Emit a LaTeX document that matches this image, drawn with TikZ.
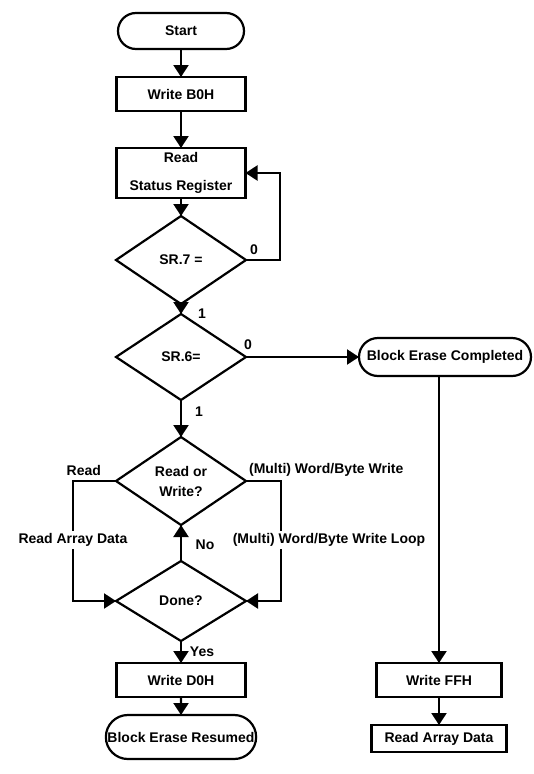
\documentclass[tikz,border=0pt]{standalone}
\usepackage{fontspec}
\setmainfont{Liberation Sans}
\usetikzlibrary{arrows.meta,positioning,shapes.geometric,shapes.misc}

\begin{document}
\begin{tikzpicture}[
  x=1pt, y=-1pt, font=\fontsize{14}{16}\selectfont\bfseries, line width=2.2pt,
  procbox/.style={draw, minimum width=129pt, minimum height=34pt, inner sep=2pt,
               outer sep=0pt, align=center},
  termbox/.style={draw, rounded rectangle, minimum height=38pt, inner sep=1pt, outer sep=0pt},
  decision/.style={draw, diamond, aspect=1.5, minimum width=130pt, minimum height=88pt,
               inner sep=0pt, outer sep=0pt, align=center},
  arr/.style={-{Triangle[length=12pt,width=15pt]}},
  lbl/.style={inner sep=1pt},
  onlinelbl/.style={fill=white, inner sep=2pt}
]
\useasboundingbox (0,0) rectangle (534,774);
% main column
\node[termbox, minimum width=128pt, minimum height=36pt] (start) at (181,31) {Start};
\node[procbox, below=28pt of start] (wb0) {Write B0H};
\node[procbox, below=37pt of wb0, minimum height=50pt] (rsr) {Read\\[12pt]Status Register};
\node[decision, below=18pt of rsr] (sr7) {SR.7 =};
\node[decision, below=10pt of sr7, minimum height=86pt] (sr6) {SR.6=};
\node[decision, below=37pt of sr6] (rw) {Read or\\[4pt]Write?};
\node[decision, below=36pt of rw, minimum height=80pt] (done) {Done?};
\node[procbox, below=22pt of done] (wd0) {Write D0H};
\node[termbox, below=18pt of wd0, minimum width=140pt, minimum height=44pt] (resumed) {Block Erase Resumed};
% right column
\node[termbox, right=113pt of sr6, minimum width=174pt] (completed) {Block Erase Completed};
\node[procbox, minimum width=125pt] (wff) at (439,680) {Write FFH};
\node[procbox, below=28pt of wff, minimum width=135pt, minimum height=27pt] (rad) {Read Array Data};
% loop columns
\coordinate (fbx) at (280,0);
\coordinate (lx) at (73,0);
\coordinate (rx) at (281,0);
% connectors
\draw[arr] (start) -- (wb0);
\draw[arr] (wb0) -- (rsr);
\draw[arr] (rsr) -- (sr7);
\draw[arr] (sr7.east) -- (sr7.east -| fbx) |- (rsr.east);
\draw[arr] (sr7) -- (sr6);
\draw[arr] (sr6) -- (completed);
\draw[arr] (sr6) -- (rw);
\draw[arr] (rw.west) -- (rw.west -| lx) -- (done.west -| lx) -- (done.west);
\draw[arr] (rw.east) -- (rw.east -| rx) -- (done.east -| rx) -- (done.east);
\draw[arr] (done) -- (rw);
\draw[arr] (done) -- (wd0);
\draw[arr] (wd0) -- (resumed);
\draw[arr] (wff.north |- completed.south) -- (wff.north);
\draw[arr] (wff) -- (rad);
% labels
\node[lbl, anchor=south west] at ([xshift=2pt,yshift=3pt]sr7.east) {0};
\node[lbl, anchor=south west] at ([xshift=-4pt,yshift=5pt]sr6.east) {0};
\node[lbl] at ([xshift=21pt,yshift=-10pt]sr7.south) {1};
\node[lbl] at ([xshift=18pt,yshift=-12pt]sr6.south) {1};
\node[lbl, anchor=south east] at ([xshift=-13pt,yshift=3pt]rw.west) {Read};
\node[lbl, anchor=south west] at ([xshift=1pt,yshift=3pt]rw.east) {(Multi) Word/Byte Write};
\node[onlinelbl] at (73,540) {Read Array Data};
\node[onlinelbl] at (329,540) {(Multi) Word/Byte Write Loop};
\node[lbl] at ([xshift=24pt,yshift=16pt]done.north) {No};
\node[lbl] at ([xshift=21pt,yshift=-11pt]done.south) {Yes};
\end{tikzpicture}
\end{document}
